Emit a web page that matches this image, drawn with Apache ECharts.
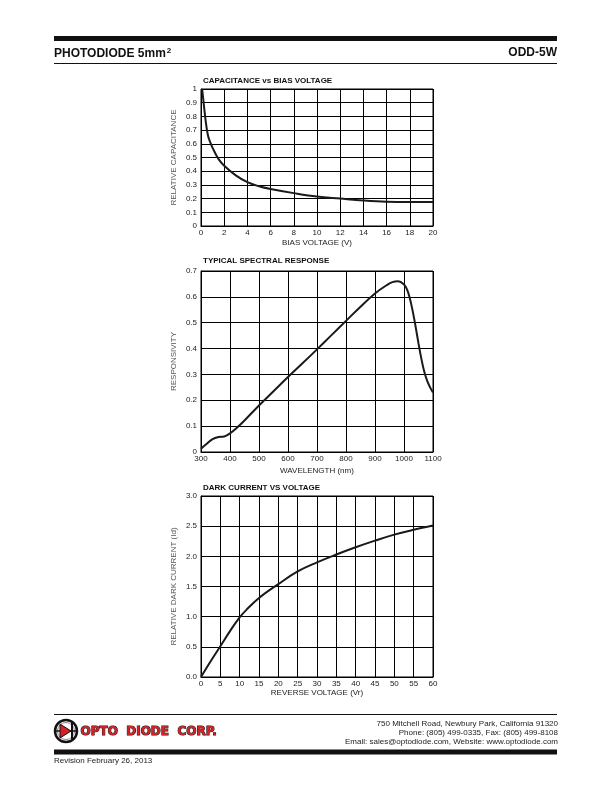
<!DOCTYPE html>
<html>
<head>
<meta charset="utf-8">
<script src="https://cdn.jsdelivr.net/npm/echarts@6/dist/echarts.min.js"></script>
<style>
  html, body { margin: 0; padding: 0; background: #fff; }
  #main { width: 612px; height: 792px; }
</style>
</head>
<body>
<div id="main"></div>
<script>
// capacitance vs bias voltage
const capVoltage = [0.1, 0.2, 0.4, 0.6, 0.8, 1, 1.5, 2, 3, 4, 5, 6, 8, 10, 12, 14, 16, 18, 20];
const capValue = [1.0, 0.92, 0.77, 0.66, 0.61, 0.57, 0.49, 0.44, 0.37, 0.32, 0.29, 0.27, 0.24, 0.215, 0.2, 0.186, 0.177, 0.175, 0.175];

// typical spectral response
const wavelength = [300, 320, 340, 360, 380, 400, 420, 450, 500, 550, 600, 650, 700, 750, 800, 850, 900, 940, 960, 980, 1000, 1010, 1020, 1030, 1040, 1050, 1060, 1070, 1080, 1090, 1100];
const responsivity = [0.013, 0.032, 0.05, 0.058, 0.06, 0.072, 0.09, 0.122, 0.18, 0.235, 0.29, 0.343, 0.397, 0.452, 0.507, 0.562, 0.613, 0.645, 0.657, 0.66, 0.648, 0.63, 0.595, 0.545, 0.485, 0.42, 0.36, 0.31, 0.275, 0.25, 0.23];

// dark current vs voltage
const darkVoltage = [0, 2.5, 5, 7.5, 10, 12, 15, 20, 25, 30, 35, 40, 45, 50, 55, 60];
const darkCurrent = [0, 0.26, 0.51, 0.76, 0.99, 1.13, 1.31, 1.54, 1.75, 1.9, 2.03, 2.15, 2.26, 2.36, 2.44, 2.51];

const addressLines = [
  '750 Mitchell Road, Newbury Park, California 91320',
  'Phone: (805) 499-0335, Fax: (805) 499-8108',
  'Email: sales@optodiode.com, Website: www.optodiode.com'
];

const pairs = (xs, ys) => xs.map((x, i) => [x, ys[i]]);

const chart = echarts.init(document.getElementById('main'));

const txt = '#222';
const font = 'Liberation Sans, Arial, sans-serif';

function grid(top, height) {
  return { left: 201, top: top, width: 232, height: height, show: true, borderColor: '#000', borderWidth: 1 };
}

function xAx(idx, min, max, step, name, gap) {
  return {
    type: 'value', gridIndex: idx, min: min, max: max, interval: step,
    name: name, nameLocation: 'middle', nameGap: gap,
    nameTextStyle: { color: txt, fontSize: 8, fontFamily: font },
    axisLine: { lineStyle: { color: '#000', width: 1 } },
    axisTick: { show: false },
    axisLabel: { color: txt, fontSize: 8, fontFamily: font, margin: 3, formatter: v => String(v) },
    splitLine: { lineStyle: { color: '#000', width: 1 } }
  };
}

function yAx(idx, min, max, step, name, fmt) {
  return {
    type: 'value', gridIndex: idx, min: min, max: max, interval: step,
    name: name, nameLocation: 'middle', nameGap: 23,
    nameTextStyle: { color: '#555', fontSize: 8, fontFamily: font },
    axisLine: { show: true, lineStyle: { color: '#000', width: 1 } },
    axisTick: { show: false },
    axisLabel: { color: txt, fontSize: 8, fontFamily: font, margin: 4, formatter: fmt },
    splitLine: { lineStyle: { color: '#000', width: 1 } }
  };
}

function line(idx, data) {
  return {
    type: 'line', xAxisIndex: idx, yAxisIndex: idx, data: data,
    smooth: 0.4, symbol: 'none', silent: true,
    lineStyle: { color: '#1a1a1a', width: 2 }
  };
}

function title(x, y, s) {
  return { type: 'text', left: x, top: y, style: { text: s, fill: '#111', font: 'bold 8px ' + font } };
}

// address block, one right-aligned text per line
const address = addressLines.map((s, i) => ({
  type: 'text', right: 54, top: 720 + i * 9,
  style: { text: s, font: '8px ' + font, fill: '#222' }
}));

chart.setOption({
  animation: false,
  grid: [grid(89, 137), grid(271, 181), grid(496, 181)],
  xAxis: [
    xAx(0, 0, 20, 2, 'BIAS VOLTAGE (V)', 13),
    xAx(1, 300, 1100, 100, 'WAVELENGTH (nm)', 15),
    xAx(2, 0, 60, 5, 'REVERSE VOLTAGE (Vr)', 12)
  ],
  yAxis: [
    yAx(0, 0, 1, 0.1, 'RELATIVE CAPACITANCE'),
    yAx(1, 0, 0.7, 0.1, 'RESPONSIVITY'),
    yAx(2, 0, 3, 0.5, 'RELATIVE DARK CURRENT (Id)', v => v.toFixed(1))
  ],
  series: [
    line(0, pairs(capVoltage, capValue)),
    line(1, pairs(wavelength, responsivity)),
    line(2, pairs(darkVoltage, darkCurrent))
  ],
  graphic: [
    // header
    { type: 'rect', shape: { x: 54, y: 36, width: 503, height: 5 }, style: { fill: '#111' } },
    { type: 'text', left: 54, top: 47, style: {
        text: '{a|PHOTODIODE 5mm}{s|2}',
        rich: { a: { font: 'bold 12px ' + font, fill: '#111' }, s: { font: 'bold 8px ' + font, fill: '#111', verticalAlign: 'top', padding: [0, 0, 5, 1] } }
      } },
    { type: 'text', right: 55, top: 47, style: { text: 'ODD-5W', font: 'bold 12px ' + font, fill: '#111' } },
    { type: 'rect', shape: { x: 54, y: 63, width: 503, height: 1 }, style: { fill: '#111' } },

    title(203, 77, 'CAPACITANCE vs BIAS VOLTAGE'),
    title(203, 257, 'TYPICAL SPECTRAL RESPONSE'),
    title(203, 484, 'DARK CURRENT VS VOLTAGE'),

    // footer
    { type: 'rect', shape: { x: 54, y: 714, width: 503, height: 1 }, style: { fill: '#111' } },
    { type: 'circle', shape: { cx: 66, cy: 731, r: 11 }, style: { fill: '#fff', stroke: '#111', lineWidth: 2.5 } },
    { type: 'circle', shape: { cx: 66, cy: 731, r: 8.5 }, style: { fill: 'none', stroke: '#888', lineWidth: 1 } },
    { type: 'line', shape: { x1: 55, y1: 731, x2: 77, y2: 731 }, style: { stroke: '#111', lineWidth: 1.5 } },
    { type: 'polygon', shape: { points: [[60, 724], [60, 738], [71, 731]] }, style: { fill: '#d42027', stroke: '#111', lineWidth: 1 } },
    { type: 'rect', shape: { x: 71, y: 723, width: 2, height: 16 }, style: { fill: '#111' } },
    { type: 'text', left: 80, top: 725, style: {
        text: 'OPTO  DIODE  CORP.', font: 'bold 12px DejaVu Sans, sans-serif',
        fill: '#d42027', stroke: '#111', lineWidth: 1
      } },
    ...address,
    { type: 'rect', shape: { x: 54, y: 749.5, width: 503, height: 5 }, style: { fill: '#111' } },
    { type: 'text', left: 54, top: 757, style: { text: 'Revision February 26, 2013', font: '8px ' + font, fill: '#222' } }
  ]
});
</script>
</body>
</html>
